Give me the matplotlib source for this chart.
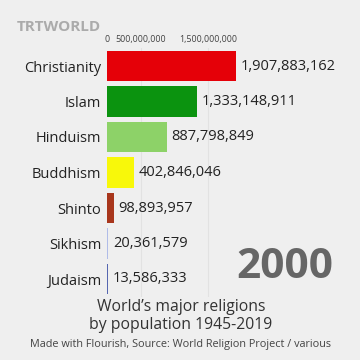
import matplotlib
matplotlib.use("Agg")
import matplotlib.pyplot as plt

religions = ["Christianity", "Islam", "Hinduism", "Buddhism", "Shinto", "Sikhism", "Judaism"]
population = [1907883162, 1333148911, 887798849, 402846046, 98893957, 20361579, 13586333]
colors = ["#e50008", "#0b930f", "#8dd268", "#f8f80a", "#a8361c", "#b0bce8", "#5566b0"]
tick_values = [0, 500000000, 1500000000]
tick_labels = ["0", "500,000,000", "1,500,000,000"]
year = "2000"

BG = "#efefef"
FONT = ["Open Sans", "DejaVu Sans"]

fig = plt.figure(figsize=(3.6, 3.6), dpi=100, facecolor=BG)
ax = fig.add_axes([107/360, 1 - 296.75/360, 135/360, 248.5/360])
ax.set_facecolor(BG)

y = list(range(len(religions)))
ax.barh(y, population, height=0.87, color=colors, zorder=2)
ax.set_ylim(len(religions) - 0.5, -0.5)
ax.set_xlim(0, 2.0e9)

for yi, v in zip(y, population):
    ax.text(v + 0.07e9, yi, f"{v:,}", va="center", ha="left", fontsize=10.5,
            color="#222222", family=FONT, clip_on=False)

ax.set_yticks(y)
ax.set_yticklabels(religions, fontsize=10.5, color="#222222", family=FONT)
ax.tick_params(axis="y", length=0, pad=4)

ax.set_xticks(tick_values)
ax.set_xticklabels(tick_labels, fontsize=6.4, color="#444444", family=FONT)
ax.xaxis.tick_top()
ax.tick_params(axis="x", length=0, pad=3)
for gv in tick_values[1:]:
    ax.axvline(gv, color="#e2e2e2", lw=0.8, zorder=1)

for s in ax.spines.values():
    s.set_visible(False)

fig.text(17/360, 1 - 27/360, "TRTWORLD", fontsize=11, fontweight="bold",
         color="#ababab", family=FONT, va="center", ha="left")

fig.text(285/360, 1 - 268/360, year, fontsize=30.5, fontweight="bold",
         color="#666666", family=FONT, va="center", ha="center")

fig.text(181/360, 1 - 307/360, "World\u2019s major religions", fontsize=11.3,
         color="#333333", family=FONT, va="center", ha="center")
fig.text(181/360, 1 - 325/360, "by population 1945-2019", fontsize=11.3,
         color="#333333", family=FONT, va="center", ha="center")
fig.text(181/360, 1 - 345/360, "Made with Flourish, Source: World Religion Project / various",
         fontsize=7.8, color="#444444", family=FONT, va="center", ha="center")

fig.savefig("out.png", dpi=100, facecolor=BG)
